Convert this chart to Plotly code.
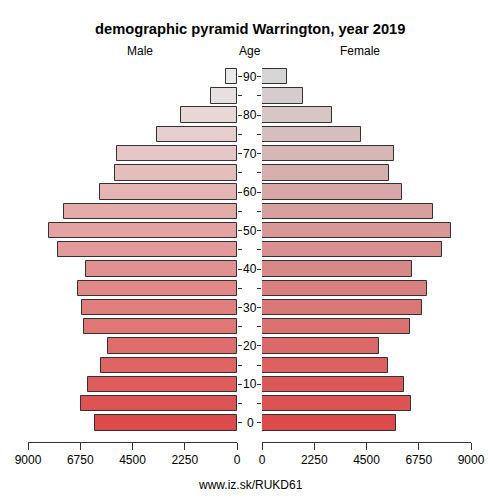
import plotly.graph_objects as go

# age group start (0-4, 5-9, ..., 90+)
ages = [0, 5, 10, 15, 20, 25, 30, 35, 40, 45, 50, 55, 60, 65, 70, 75, 80, 85, 90]
male = [6130, 6700, 6415, 5870, 5555, 6570, 6675, 6830, 6485, 7710,
        8080, 7450, 5880, 5265, 5150, 3430, 2395, 1120, 490]
female = [5755, 6431, 6100, 5411, 5052, 6359, 6904, 7091, 6459, 7765,
          8153, 7378, 6014, 5469, 5684, 4277, 3030, 1780, 1090]
age_labels = [0, 10, 20, 30, 40, 50, 60, 70, 80, 90]
x_ticks = [0, 2250, 4500, 6750, 9000]

title = "demographic pyramid Warrington, year 2019"
footer = "www.iz.sk/RUKD61"

FONT = "Liberation Sans, Arial, sans-serif"
OFF = 8  # page body margin in the browser


def ramp(c0, c1, n):
    out = []
    for i in range(n):
        t = i / (n - 1)
        r, g, b = [round(a + (bb - a) * t) for a, bb in zip(c0, c1)]
        out.append(f"rgb({r},{g},{b})")
    return out


male_cols = ramp((221, 74, 74), (233, 233, 233), len(ages))
female_cols = ramp((221, 74, 74), (213, 213, 213), len(ages))

fig = go.Figure()
fig.add_trace(go.Bar(y=ages, x=male, orientation="h", width=4,
                     marker=dict(color=male_cols, line=dict(color="#333", width=1)),
                     xaxis="x", yaxis="y", showlegend=False))
fig.add_trace(go.Bar(y=ages, x=female, orientation="h", width=4,
                     marker=dict(color=female_cols, line=dict(color="#333", width=1)),
                     xaxis="x2", yaxis="y2", showlegend=False))

# plot area on screen: x 28..471, y 62..442
L, R, T, B = 28, 471, 62, 442
W = float(R - L)
H = float(B - T)
yr = [-4.95, 93.8]
xax = dict(showgrid=False, zeroline=False, showline=True, linecolor="#333",
           linewidth=1, ticks="outside", ticklen=7, tickcolor="#333",
           tickvals=x_ticks, ticktext=[str(v) for v in x_ticks],
           tickfont=dict(size=12, color="#000"), automargin=False)
yax = dict(range=yr, showgrid=False, zeroline=False, showline=False,
           tickvals=ages, ticks="outside", ticklen=4, tickcolor="#333",
           showticklabels=False, automargin=False)

fig.update_layout(
    template="none",
    width=500, height=500,
    margin=dict(l=L - OFF, r=500 + OFF - R, t=T - OFF, b=500 + OFF - B),
    paper_bgcolor="white", plot_bgcolor="white",
    font=dict(family=FONT, size=12, color="#000"),
    bargap=0,
    xaxis=dict(xax, domain=[0, (237 - L) / W], range=[9000, 0], anchor="y"),
    xaxis2=dict(xax, domain=[(262 - L) / W, 1], range=[0, 9000], anchor="y2"),
    yaxis=dict(yax, anchor="x", side="right"),
    yaxis2=dict(yax, anchor="x2", side="left"),
)

ann = [
    dict(text="<b>" + title + "</b>", x=250, y=29, font=dict(size=14.7)),
    dict(text="Male", x=140, y=51, font=dict(size=12)),
    dict(text="Age", x=250, y=51, font=dict(size=12)),
    dict(text="Female", x=360, y=51, font=dict(size=12)),
    dict(text=footer, x=250, y=485, font=dict(size=12)),
]
for a in ann:
    fig.add_annotation(text=a["text"], xref="paper", yref="paper",
                       x=(a["x"] - L) / W, y=(B - a["y"]) / H,
                       showarrow=False, font=a["font"],
                       xanchor="center", yanchor="middle")
for v in age_labels:
    fig.add_annotation(text=str(v), xref="paper", yref="y", x=(250 - L) / W, y=v,
                       showarrow=False, font=dict(size=12),
                       xanchor="center", yanchor="middle")

fig.write_html("out.html")
